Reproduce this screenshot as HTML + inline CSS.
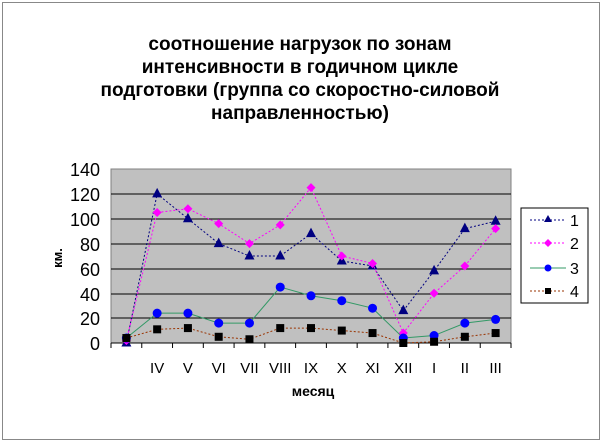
<!DOCTYPE html><html><head><meta charset="utf-8"><style>body{margin:0;background:#fff}svg{display:block}text{font-family:"Liberation Sans",Arial,sans-serif}</style></head><body>
<svg width="603" height="443" xmlns="http://www.w3.org/2000/svg">
<rect x="2.5" y="2.5" width="597" height="437" fill="#fff" stroke="#888" stroke-width="1"/>
<g font-weight="bold" font-size="19" text-anchor="middle" fill="#000">
<text x="300" y="50">соотношение нагрузок по зонам</text>
<text x="300" y="73">интенсивности в годичном цикле</text>
<text x="300" y="96">подготовки (группа со скоростно-силовой</text>
<text x="300" y="119">направленностью)</text>
</g>
<rect x="111" y="169" width="400" height="174" fill="#c0c0c0" stroke="#808080"/>
<g stroke="#000" stroke-width="1">
<line x1="111" x2="511" y1="194" y2="194"/><line x1="111" x2="511" y1="219" y2="219"/><line x1="111" x2="511" y1="244" y2="244"/><line x1="111" x2="511" y1="269" y2="269"/><line x1="111" x2="511" y1="294" y2="294"/><line x1="111" x2="511" y1="318" y2="318"/><line x1="111" x2="511" y1="343" y2="343"/>
</g>
<g font-size="18" text-anchor="end" fill="#000">
<text x="100" y="176">140</text><text x="100" y="201">120</text><text x="100" y="226">100</text><text x="100" y="251">80</text><text x="100" y="276">60</text><text x="100" y="301">40</text><text x="100" y="325">20</text><text x="100" y="350">0</text>
</g>
<text x="0" y="0" font-size="13" font-weight="bold" transform="translate(62,258) rotate(-90)" text-anchor="middle">км.</text>
<g id="ticks" stroke="#000"></g>
<g id="xl" font-size="15" text-anchor="middle"></g>
<text x="313" y="396" font-size="14" font-weight="bold" text-anchor="middle">месяц</text>
<g id="series"></g>
<rect x="521" y="208" width="67" height="95" fill="#fff" stroke="#000"/>
<g font-size="16">
<line x1="530" x2="566" y1="220" y2="220" stroke="#000080" stroke-dasharray="2,2"/><path d="M548 215 L552 222 L544 222 Z" fill="#000080"/><text x="570" y="226">1</text>
<line x1="530" x2="566" y1="243" y2="243" stroke="#ff00ff" stroke-dasharray="2,2"/><path d="M548 239 L552 243 L548 247 L544 243 Z" fill="#ff00ff"/><text x="570" y="249">2</text>
<line x1="530" x2="566" y1="268" y2="268" stroke="#339966"/><circle cx="548" cy="268" r="3.5" fill="#0000ff"/><text x="570" y="274">3</text>
<line x1="530" x2="566" y1="291" y2="291" stroke="#993300" stroke-dasharray="2,2"/><rect x="545" y="288" width="6" height="6" fill="#000"/><text x="570" y="297">4</text>
</g>
<script>
var x0=111,w=400/13,sc=174/140,ns="http://www.w3.org/2000/svg";
function X(i){return x0+w/2+i*w}function Y(v){return 343-v*sc}
var t=document.getElementById('ticks'),xl=document.getElementById('xl'),s=document.getElementById('series');
var labs=["","IV","V","VI","VII","VIII","IX","X","XI","XII","I","II","III"];
for(var i=0;i<=13;i++){var l=document.createElementNS(ns,'line');l.setAttribute('x1',x0+i*w);l.setAttribute('x2',x0+i*w);l.setAttribute('y1',343);l.setAttribute('y2',348);t.appendChild(l);}
labs.forEach(function(a,i){var e=document.createElementNS(ns,'text');e.setAttribute('x',X(i));e.setAttribute('y',373);e.textContent=a;xl.appendChild(e);});
var D=[[[0,120,100,80,70,70,88,66,62,26,58,92,98],'#000080','2,2','tri'],
[[2,105,108,96,80,95,125,70,64,8,40,62,92],'#ff00ff','2,2','dia'],
[[4,24,24,16,16,45,38,34,28,4,6,16,19],'#339966','','cir'],
[[4,11,12,5,3,12,12,10,8,0,1,5,8],'#993300','2,2','sq']];
D.forEach(function(d){var p=document.createElementNS(ns,'polyline');p.setAttribute('points',d[0].map(function(v,i){return X(i)+','+Y(v)}).join(' '));p.setAttribute('fill','none');p.setAttribute('stroke',d[1]);if(d[2])p.setAttribute('stroke-dasharray',d[2]);s.appendChild(p);
d[0].forEach(function(v,i){var x=X(i),y=Y(v),e;
if(d[3]=='tri'){e=document.createElementNS(ns,'path');e.setAttribute('d','M'+x+' '+(y-6)+' L'+(x+5)+' '+(y+3.5)+' L'+(x-5)+' '+(y+3.5)+'Z');e.setAttribute('fill','#000080');}
else if(d[3]=='dia'){e=document.createElementNS(ns,'path');e.setAttribute('d','M'+x+' '+(y-4.5)+' L'+(x+4.5)+' '+y+' L'+x+' '+(y+4.5)+' L'+(x-4.5)+' '+y+'Z');e.setAttribute('fill','#ff00ff');}
else if(d[3]=='cir'){e=document.createElementNS(ns,'circle');e.setAttribute('cx',x);e.setAttribute('cy',y);e.setAttribute('r',4.5);e.setAttribute('fill','#0000ff');}
else{e=document.createElementNS(ns,'rect');e.setAttribute('x',x-4);e.setAttribute('y',y-4);e.setAttribute('width',8);e.setAttribute('height',8);e.setAttribute('fill','#000');}
s.appendChild(e);});});
</script>
</svg></body></html>
